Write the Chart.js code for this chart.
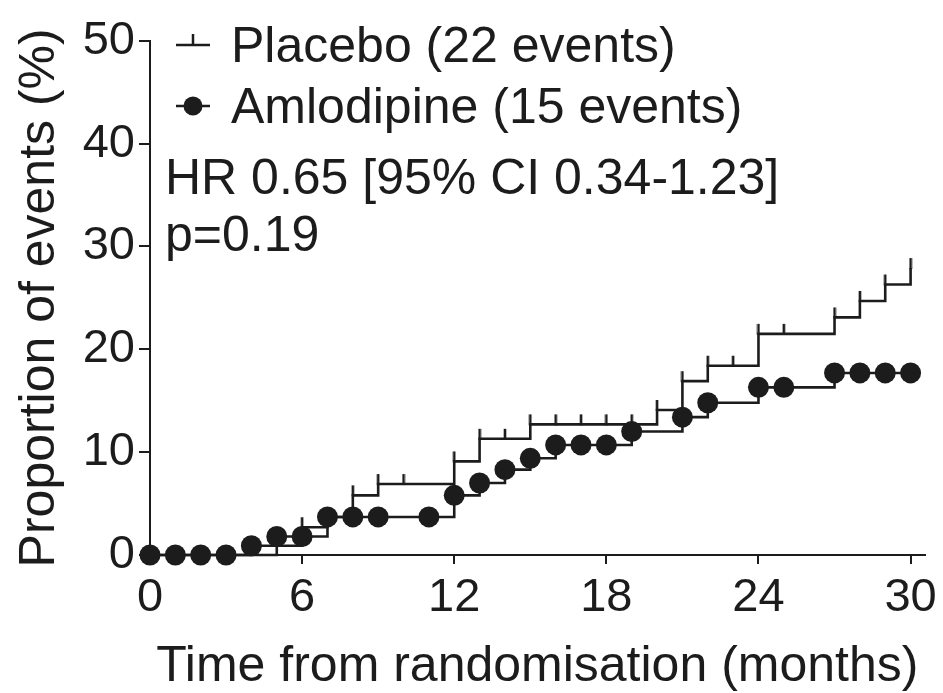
<!DOCTYPE html>
<html>
<head>
<meta charset="utf-8">
<script src="https://cdn.jsdelivr.net/npm/chart.js@4.4.1/dist/chart.umd.min.js"></script>
<style>
  body { margin: 0; background: #fff; }
  #wrap { width: 943px; height: 693px; }
</style>
</head>
<body>
<div id="wrap"><canvas id="myChart"></canvas></div>
<script>
// cumulative proportion of events (%) by month
const amloMonths = [0, 1, 2, 3, 4, 5, 6, 7, 8, 9, 11, 12, 13, 14, 15, 16, 17, 18, 19, 21, 22, 24, 25, 27, 28, 29, 30];
const amloPct = [0, 0, 0, 0, 0.9, 1.8, 1.8, 3.7, 3.7, 3.7, 3.7, 5.8, 7.0, 8.3, 9.4, 10.7, 10.7, 10.7, 12.0, 13.4, 14.8, 16.3, 16.3, 17.7, 17.7, 17.7, 17.7];

const placeboMonths = [0, 5, 6, 7, 8, 9, 10, 12, 13, 14, 15, 16, 17, 18, 19, 20, 21, 22, 23, 24, 25, 27, 28, 29, 30];
const placeboPct = [0, 0.9, 2.7, 3.7, 5.8, 6.9, 6.9, 9.1, 11.3, 11.3, 12.7, 12.7, 12.7, 12.7, 12.7, 14.1, 16.9, 18.4, 18.4, 21.5, 21.5, 23.1, 24.7, 26.3, 27.9];

const xTicks = [0, 6, 12, 18, 24, 30];
const yTicks = [0, 10, 20, 30, 40, 50];

const legendLabels = ['Placebo (22 events)', 'Amlodipine (15 events)'];
const statLines = ['HR 0.65 [95% CI 0.34-1.23]', 'p=0.19'];

const ink = '#1c1c1c';
const fontFamily = "'Liberation Sans', Arial, Helvetica, sans-serif";

// censor mark: short tick that only points up from the curve
function makeTick() {
    const c = document.createElement('canvas');
    c.width = 4;
    c.height = 22;
    const g = c.getContext('2d');
    g.fillStyle = ink;
    g.fillRect(0.7, 1, 2.6, 11);
    return c;
}
const tickMark = makeTick();

const toPoints = (xs, ys) => xs.map((x, i) => ({ x: x, y: ys[i] }));

// legend block and HR text inside the plot
const notesPlugin = {
    id: 'notes',
    afterDraw(chart) {
        const ctx = chart.ctx;
        ctx.save();
        ctx.fillStyle = ink;
        ctx.strokeStyle = ink;
        ctx.font = `50px ${fontFamily}`;
        ctx.textBaseline = 'alphabetic';

        // placebo symbol
        ctx.lineWidth = 2.5;
        ctx.beginPath();
        ctx.moveTo(176, 45);
        ctx.lineTo(210, 45);
        ctx.moveTo(193, 45);
        ctx.lineTo(193, 34);
        ctx.stroke();
        ctx.fillText(legendLabels[0], 231, 62);

        // amlodipine symbol
        ctx.beginPath();
        ctx.moveTo(176, 106);
        ctx.lineTo(210, 106);
        ctx.stroke();
        ctx.beginPath();
        ctx.arc(193, 106, 9.5, 0, Math.PI * 2);
        ctx.fill();
        ctx.fillText(legendLabels[1], 231, 123);

        ctx.fillText(statLines[0], 165, 194);
        ctx.fillText(statLines[1], 165, 251);
        ctx.restore();
    }
};

const data = {
    datasets: [{
        label: 'Amlodipine',
        data: toPoints(amloMonths, amloPct),
        stepped: 'before',
        clip: false,
        borderColor: ink,
        borderWidth: 2.6,
        pointStyle: 'circle',
        pointRadius: 10.5,
        pointBackgroundColor: ink,
        pointBorderWidth: 0,
        order: 0
    }, {
        label: 'Placebo',
        data: toPoints(placeboMonths, placeboPct),
        stepped: 'before',
        clip: false,
        borderColor: ink,
        borderWidth: 2.6,
        pointStyle: tickMark,
        pointRadius: (c) => c.dataIndex === 0 ? 0 : 5,
        order: 1
    }]
};

const config = {
    type: 'line',
    data: data,
    options: {
        responsive: true,
        maintainAspectRatio: false,
        animation: false,
        events: [],
        layout: { padding: { left: 0, right: 15, top: 40.7, bottom: 0 } },
        plugins: { legend: { display: false }, tooltip: { enabled: false } },
        scales: {
            x: {
                type: 'linear',
                min: 0,
                max: 30.55,
                afterBuildTicks: (scale) => { scale.ticks = xTicks.map(v => ({ value: v })); },
                afterFit: (scale) => { scale.height = 138; },
                border: { display: true, color: ink, width: 2 },
                grid: { drawOnChartArea: false, drawTicks: true, tickLength: 9, color: ink, lineWidth: 2 },
                ticks: { color: ink, font: { family: fontFamily, size: 47 }, padding: 6, maxRotation: 0 },
                title: {
                    display: true,
                    text: 'Time from randomisation (months)',
                    color: ink,
                    font: { family: fontFamily, size: 50, lineHeight: 1 },
                    padding: { top: 0, bottom: 1 }
                }
            },
            y: {
                type: 'linear',
                min: 0,
                max: 50,
                afterBuildTicks: (scale) => { scale.ticks = yTicks.map(v => ({ value: v })); },
                afterFit: (scale) => { scale.width = 150; },
                border: { display: true, color: ink, width: 2 },
                grid: { drawOnChartArea: false, drawTicks: true, tickLength: 11, color: ink, lineWidth: 2 },
                ticks: { color: ink, font: { family: fontFamily, size: 47 }, padding: 4 },
                title: {
                    display: true,
                    text: 'Proportion of events (%)',
                    color: ink,
                    font: { family: fontFamily, size: 50, lineHeight: 1 },
                    padding: { top: 15, bottom: 0 }
                }
            }
        }
    },
    plugins: [notesPlugin]
};

const myChart = new Chart(document.getElementById('myChart'), config);
</script>
</body>
</html>
